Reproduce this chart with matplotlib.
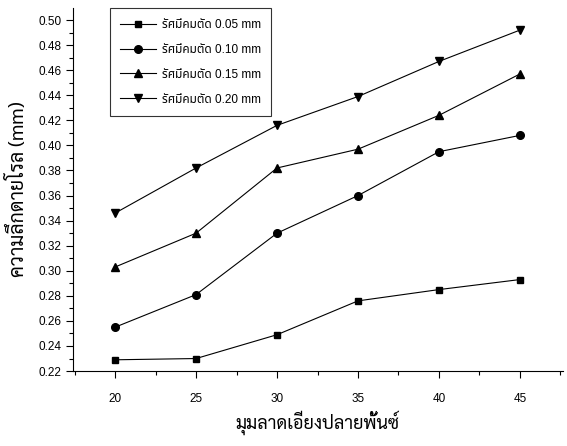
import matplotlib
matplotlib.use('Agg')
import matplotlib.pyplot as plt
from matplotlib.ticker import MultipleLocator

plt.rcParams['font.family'] = ['Liberation Sans', 'Noto Sans Thai', 'DejaVu Sans']

# Data
angles = [20, 25, 30, 35, 40, 45]
r005 = [0.229, 0.230, 0.249, 0.276, 0.285, 0.293]
r010 = [0.255, 0.281, 0.330, 0.360, 0.395, 0.408]
r015 = [0.303, 0.330, 0.382, 0.397, 0.424, 0.457]
r020 = [0.346, 0.382, 0.416, 0.439, 0.467, 0.492]
labels = ['รัศมีคมตัด 0.05 mm', 'รัศมีคมตัด 0.10 mm',
          'รัศมีคมตัด 0.15 mm', 'รัศมีคมตัด 0.20 mm']
yticks = [0.22 + 0.02 * i for i in range(15)]

fig = plt.figure(figsize=(5.67, 4.46), dpi=100)
ax = fig.add_axes([0.1287, 0.168, 0.864, 0.814])

ax.plot(angles, r005, '-s', color='black', lw=0.8, ms=5, label=labels[0])
ax.plot(angles, r010, '-o', color='black', lw=0.8, ms=5.5, label=labels[1])
ax.plot(angles, r015, '-^', color='black', lw=0.8, ms=6, label=labels[2])
ax.plot(angles, r020, '-v', color='black', lw=0.8, ms=6, label=labels[3])

ax.set_xlim(17.4, 47.65)
ax.set_ylim(0.22, 0.5096)
ax.xaxis.set_major_locator(MultipleLocator(5))
ax.xaxis.set_minor_locator(MultipleLocator(2.5))
ax.yaxis.set_minor_locator(MultipleLocator(0.01))
ax.set_yticks(yticks)
ax.set_yticklabels(['%.2f' % v for v in yticks])

ax.spines['top'].set_visible(False)
ax.spines['right'].set_visible(False)
ax.tick_params(axis='both', which='major', direction='out', length=5, width=0.8, labelsize=8.5)
ax.tick_params(axis='both', which='minor', direction='out', length=3, width=0.8)
ax.tick_params(axis='x', which='major', pad=11)

ax.set_xlabel('มุมลาดเอียงปลายพั้นซ์', fontsize=13, family=['Sarabun', 'Noto Sans Thai'])
ax.set_ylabel('ความลึกดายโรล (mm)', fontsize=14, labelpad=7, family=['Sarabun', 'Noto Sans Thai'])

leg = ax.legend(loc='upper left', bbox_to_anchor=(0.075, 1.0), fontsize=8.5,
                frameon=True, fancybox=False, edgecolor='black', handlelength=3.0,
                handletextpad=0.5, labelspacing=1.1, borderpad=0.9, borderaxespad=0.0)
leg.get_frame().set_linewidth(0.8)

fig.savefig('out.png', dpi=100)
